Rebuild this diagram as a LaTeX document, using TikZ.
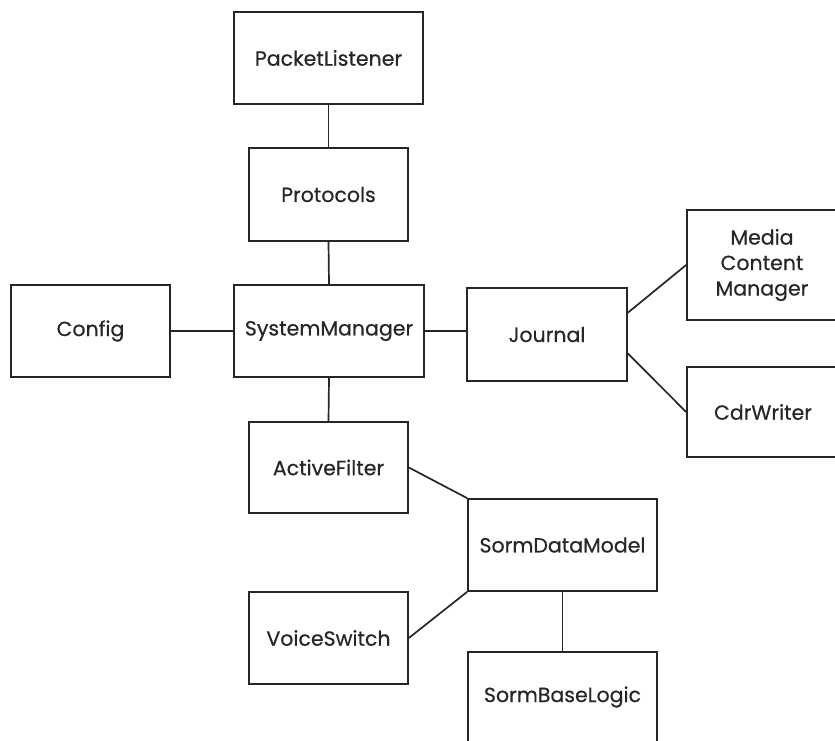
\documentclass[tikz,border=0pt]{standalone}
\usepackage{fontspec}
\setmainfont{Poppins}[FakeBold=0.5]
\usetikzlibrary{calc}
\definecolor{ink}{HTML}{262626}
\begin{document}
\begin{tikzpicture}[x=1pt,y=-1pt,
  box/.style={draw=ink,line width=1.7pt,rectangle,inner sep=0pt,align=center,
    font=\fontsize{20.5}{25.5}\selectfont,text=ink},
  link/.style={draw=ink,line width=1.7pt}]
\useasboundingbox (0,0) rectangle (835,741);
\node[box,minimum width=189,minimum height=92] (pl) at (328.5,58) {PacketListener};
\node[box,minimum width=159,minimum height=93] (pr) at (328.5,194.5) {Protocols};
\node[box,minimum width=159,minimum height=92] (cf) at (90.5,331) {Config};
\node[box,minimum width=190,minimum height=92] (sm) at (329,331) {SystemManager};
\node[box,minimum width=160,minimum height=93] (jn) at (547,334.5) {Journal};
\node[box,minimum width=150,minimum height=110] (mc) at (762,265) {Media\\Content\\Manager};
\node[box,minimum width=152,minimum height=90] (cw) at (763,412) {CdrWriter};
\node[box,minimum width=159,minimum height=91] (af) at (328.5,467.5) {ActiveFilter};
\node[box,minimum width=189,minimum height=92] (sd) at (562.5,545) {SormDataModel};
\node[box,minimum width=159,minimum height=92] (vs) at (328.5,638) {VoiceSwitch};
\node[box,minimum width=189,minimum height=90] (sb) at (562.5,697) {SormBaseLogic};
\draw[link] (pl.south) -- (pr.north);
\draw[link] (pr.south) -- (sm.north);
\draw[link] (cf.east) -- (sm.west);
\draw[link] (sm.east) -- (sm.east -| jn.west);
\draw[link] ($(jn.north east)!0.27!(jn.south east)$) -- (mc.west);
\draw[link] ($(jn.north east)!0.70!(jn.south east)$) -- (cw.west);
\draw[link] (sm.south) -- (af.north);
\draw[link] (af.east) -- (sd.north west);
\draw[link] (vs.east) -- (sd.south west);
\draw[link] (sd.south) -- (sb.north);
\end{tikzpicture}
\end{document}
